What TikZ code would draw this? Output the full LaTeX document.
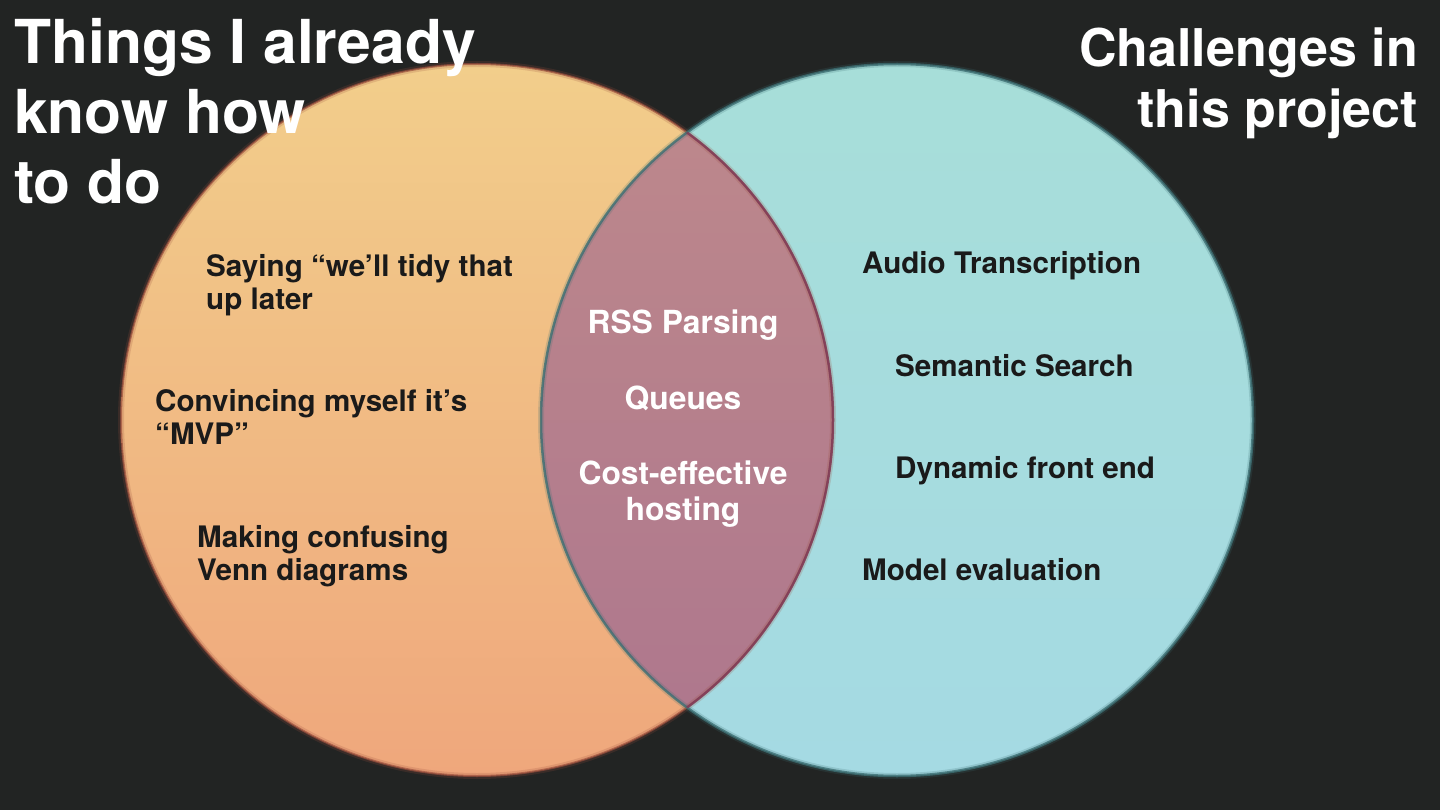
\documentclass[tikz,border=0pt]{standalone}
\usepackage{fontspec}
\setmainfont{TeX Gyre Heros}

\definecolor{slatebg}{HTML}{222423}
\definecolor{peachtop}{HTML}{F2CE8B}
\definecolor{peachmid}{HTML}{F0BE88}
\definecolor{peachbot}{HTML}{EFA77C}
\definecolor{peachedge}{HTML}{9A4E3C}
\definecolor{tealtop}{HTML}{A7DED9}
\definecolor{tealbot}{HTML}{A5DAE3}
\definecolor{tealedge}{HTML}{3C6E72}
\definecolor{mauvetop}{HTML}{BE898C}
\definecolor{mauvemid}{HTML}{C38F92}
\definecolor{mauvebot}{HTML}{AD768D}
\definecolor{plumedge}{HTML}{7E3A5A}
\definecolor{inkdark}{HTML}{1A1A1A}

\tikzset{
  heading/.style={text=white, font=\bfseries\fontsize{60.6}{70}\selectfont, inner sep=0pt, align=left},
  item/.style={text=inkdark, font=\bfseries\fontsize{29.6}{33}\selectfont, inner sep=0pt, align=left},
  overlapitem/.style={item, text=white, font=\bfseries\fontsize{31.8}{36}\selectfont, align=center},
}

\begin{document}
\begin{tikzpicture}[x=1pt,y=-1pt]
  \fill[slatebg] (0,0) rectangle (1440,810);
  \useasboundingbox (0,0) rectangle (1440,810);

  % the two sets
  \coordinate (known) at (477,420);
  \coordinate (challenge) at (897,420);
  \shade[top color=peachtop, middle color=peachmid, bottom color=peachbot] (known) circle[radius=356];
  \shade[top color=tealtop, bottom color=tealbot] (challenge) circle[radius=356];

  % overlap
  \begin{scope}
    \clip (known) circle[radius=356];
    \shade[top color=mauvetop, middle color=mauvemid, bottom color=mauvebot] (challenge) circle[radius=356];
  \end{scope}

  % edges
  \draw[line width=6pt, peachedge, opacity=.2] (known) circle[radius=356];
  \draw[line width=6pt, tealedge, opacity=.2] (challenge) circle[radius=356];
  \draw[line width=2pt, peachedge, opacity=.7] (known) circle[radius=356];
  \draw[line width=2.5pt, tealedge, opacity=.8] (challenge) circle[radius=356];
  \begin{scope}
    \clip (challenge) circle[radius=356];
    \draw[line width=2.5pt, plumedge, opacity=.8] (known) circle[radius=356];
  \end{scope}

  % titles
  \node[heading, anchor=base west] (knownhead) at (14,204) {Things I already\\know how\\to do};
  \node[heading, font=\bfseries\fontsize{52}{61}\selectfont, align=right, anchor=base east] (challengehead) at (1418,128) {Challenges in\\this project};

  % left set
  \node[item, anchor=base west] (tidy) at (206,309) {Saying “we’ll tidy that\\up later};
  \node[item, anchor=base west] (mvp) at (155,444) {Convincing myself it’s\\“MVP”};
  \node[item, anchor=base west] (venn) at (197,580) {Making confusing\\Venn diagrams};

  % both
  \node[overlapitem, anchor=base] (rss) at (683,333) {RSS Parsing};
  \node[overlapitem, anchor=base] (queues) at (683,409) {Queues};
  \node[overlapitem, anchor=base] (hosting) at (683,520) {Cost-effective\\hosting};

  % right set
  \node[item, anchor=base west] (audio) at (862,274) {Audio Transcription};
  \node[item, anchor=base west] (search) at (895,376) {Semantic Search};
  \node[item, anchor=base west] (frontend) at (895,478) {Dynamic front end};
  \node[item, anchor=base west] (evaluation) at (862,580) {Model evaluation};
\end{tikzpicture}
\end{document}
